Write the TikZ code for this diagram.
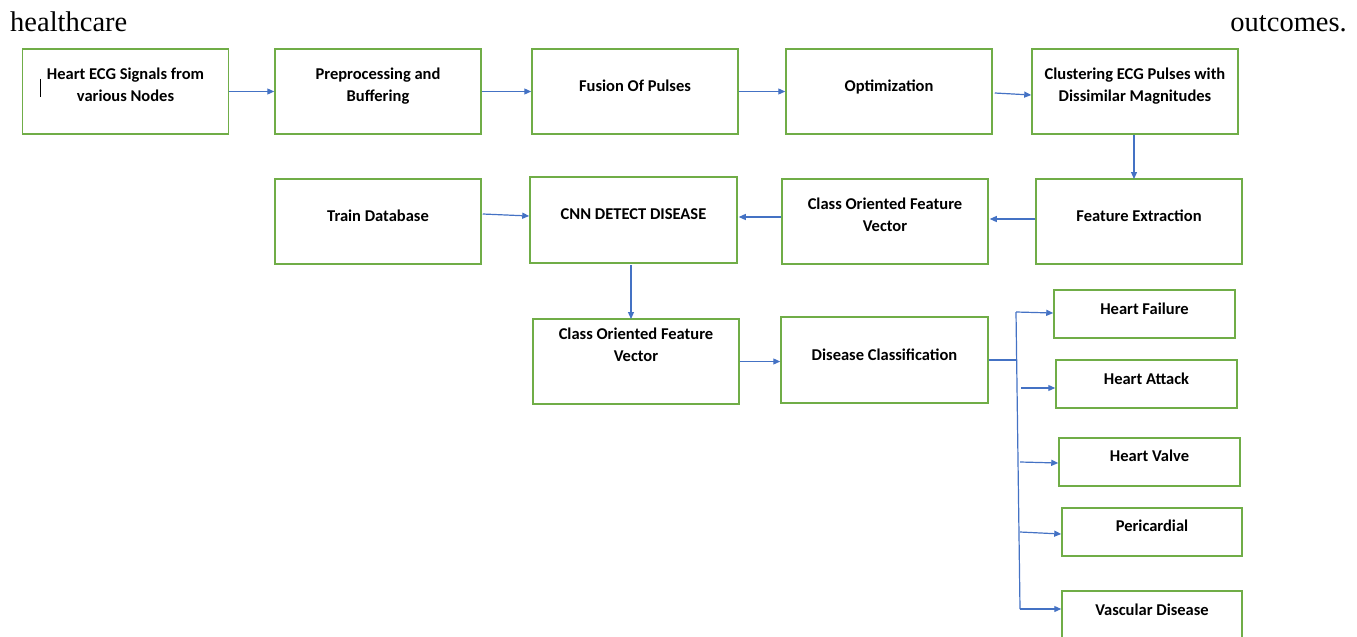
\documentclass[tikz,border=0pt]{standalone}
\usepackage{fontspec}
\setmainfont{Liberation Serif}
\newfontfamily\carl{Carlito}
\usetikzlibrary{arrows.meta,calc}
\definecolor{boxgreen}{HTML}{70AD47}
\definecolor{arrblue}{HTML}{4472C4}
\newcommand\boxfont{\carl\bfseries\fontsize{16.5}{21.5}\selectfont}
\begin{document}
\begin{tikzpicture}[x=1pt,y=-1pt,
  box/.style={draw=boxgreen,line width=1.5pt,rectangle,inner sep=0pt,minimum width=206pt,minimum height=85pt},
  sbox/.style={box,minimum width=181pt,minimum height=48pt},
  txt/.style={inner sep=0pt,anchor=north,align=center,font=\boxfont,execute at begin node={\rule{0pt}{13pt}}},
  line/.style={draw=arrblue,line width=1.2pt},
  arr/.style={line,-{Triangle[length=7pt,width=6pt]}},
  serif/.style={inner sep=0pt,font=\fontsize{28.5}{30}\selectfont}]
\useasboundingbox (0,0) rectangle (1357,637);
% header text
\node[serif,anchor=base west] (hc) at (10,31) {healthcare};
\node[serif,anchor=base east] (oc) at (1347,31) {outcomes.};
% row 1
\node[box] (b1) at (125.5,91.5) {};
\node[box] (b2) at (378,91.5) {};
\node[box] (b3) at (635,91.5) {};
\node[box] (b4) at (889,91.5) {};
\node[box] (b5) at (1135,91.5) {};
% row 2
\node[box] (train) at (378,221.5) {};
\node[box,minimum width=207pt,minimum height=86pt] (cnn) at (633.5,220) {};
\node[box] (cof1) at (885,221.5) {};
\node[box] (fe) at (1139,221.5) {};
% row 3
\node[box] (cof2) at (636,361.5) {};
\node[box,minimum width=207pt,minimum height=86pt] (dc) at (884.5,360) {};
% outcomes
\node[sbox] (hf) at (1144.5,314) {};
\node[sbox] (ha) at (1146.5,384) {};
\node[sbox] (hv) at (1149.5,462) {};
\node[sbox,minimum width=180pt] (pc) at (1152,532) {};
\node[sbox,minimum width=180pt] (vd) at (1152,615) {};
% texts
\node[txt] (t1) at ($(b1.north)+(0,19.8)$) {Heart ECG Signals from\\various Nodes};
\node[txt] (t2) at ($(b2.north)+(0,19.8)$) {Preprocessing and\\Buffering};
\node[txt] (t3) at ($(b3.north)+(0,29.8)$) {Fusion Of Pulses};
\node[txt] (t4) at ($(b4.north)+(0,29.8)$) {Optimization};
\node[txt] (t5) at ($(b5.north)+(0,19.8)$) {Clustering ECG Pulses with\\Dissimilar Magnitudes};
\node[txt] (ttrain) at ($(train.north)+(0,29.8)$) {Train Database};
\node[txt] (tcnn) at ($(cnn.north)+(0,29.8)$) {CNN DETECT DISEASE};
\node[txt] (tcof1) at ($(cof1.north)+(0,19.8)$) {Class Oriented Feature\\Vector};
\node[txt] (tfe) at ($(fe.north)+(0,29.8)$) {Feature Extraction};
\node[txt] (tcof2) at ($(cof2.north)+(0,9.8)$) {Class Oriented Feature\\Vector};
\node[txt] (tdc) at ($(dc.north)+(0,30.8)$) {Disease Classification};
\node[txt] (thf) at ($(hf.north)+(0,12.3)$) {Heart Failure};
\node[txt] (tha) at ($(ha.north)+(0,12.3)$) {Heart Attack};
\node[txt] (thv) at ($(hv.north)+(0,11.3)$) {Heart Valve};
\node[txt] (tpc) at ($(pc.north)+(0,11.3)$) {Pericardial};
\node[txt] (tvd) at ($(vd.north)+(0,12.3)$) {Vascular Disease};
% cursor mark
\draw[black,line width=0.9pt] (40.5,79) -- (40.5,97);
% connector end points
\coordinate (v1s) at (1134,135);
\coordinate (v1e) at (1134,179);
\coordinate (v2s) at (631,265);
\coordinate (v2e) at (631,319);
% connectors row 1
\draw[arr] (b1.east) -- (b2.west);
\draw[arr] (b2.east) -- (b3.west);
\draw[arr] (b3.east) -- (b4.west);
\draw[arr] ($(b4.east)+(2,1.5)$) -- ($(b5.west)+(0,3.5)$);
\draw[arr] (v1s) -- (v1e);
% row 2
\draw[arr] ($(fe.west)+(0,-2.5)$) -- ($(cof1.east)+(1,-2.5)$);
\draw[arr] ($(cof1.west)+(0,-4.5)$) -- ($(cnn.east)+(1,-3)$);
\draw[arr] ($(train.east)+(1,-7.5)$) -- ($(cnn.west)+(0,-4)$);
\draw[arr] (v2s) -- (v2e);
% row 3
\draw[arr] (cof2.east) -- (cof2.east -| dc.west);
% bus
\coordinate (j) at (1016,360);
\coordinate (bt) at (1016,312);
\coordinate (bb) at (1020,609);
\coordinate (s2) at (1021,388);
\coordinate (s3) at (1020,462);
\coordinate (s4) at (1020,532);
\draw[line] (dc.east) -- (j);
\draw[line] (bt) -- (bb);
\draw[arr] (bt) -- ($(hf.west)+(0,-1)$);
\draw[arr] (s2) -- ($(ha.west)+(0,4)$);
\draw[arr] (s3) -- ($(hv.west)+(0,1)$);
\draw[arr] (s4) -- ($(pc.west)+(0,2)$);
\draw[arr] (bb) -- ($(vd.west)+(0,-6)$);
\end{tikzpicture}
\end{document}
